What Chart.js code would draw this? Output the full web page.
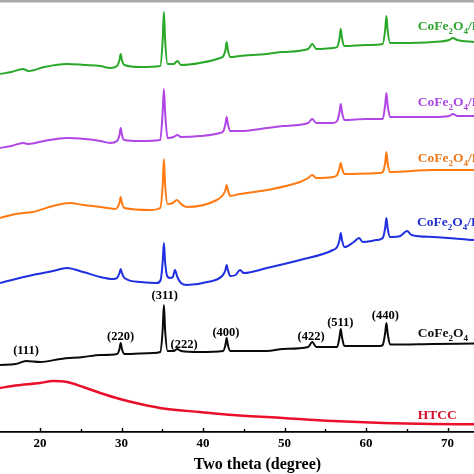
<!DOCTYPE html>
<html>
<head>
<meta charset="utf-8">
<script src="https://cdn.jsdelivr.net/npm/chart.js@4/dist/chart.umd.min.js"></script>
<style>
  html, body { margin: 0; padding: 0; background: #fff; }
  #wrap { width: 474px; height: 474px; position: relative; }
</style>
</head>
<body>
<div id="wrap"><canvas id="c"></canvas></div>
<script>
// ---- Data (two theta in degrees, intensity in arbitrary offset units) ----
const thetaGreen = [15.1,16.5,17.9,18.6,20.5,23.3,25.5,27.4,28.6,29.45,29.75,29.9,30.05,30.35,32.3,34.75,35.05,35.2,35.35,35.65,36.4,36.85,37.3,39.6,42.08,42.5,42.75,42.9,43.05,43.35,44.5,47.85,49.8,52.9,53.4,53.9,55.95,56.45,56.75,56.9,57.05,57.35,60,62.05,62.35,62.5,62.65,62.95,64.2,68.2,70.2,70.67,71.2,73.25];
const intGreen = [358,360,363,361,365,368,367,366,364,366,372,378,372,367,365,366,392,420,392,368,368,371,367,369,374,376,382,390,382,375,376,378,380,383,388,383,384,385,394,403,394,386,387,388,402,416,402,389,389,390,392,394,392,390];

const thetaPurple = [15.1,16.5,17.9,18.6,20.5,23.3,25.5,27.4,28.6,29.45,29.75,29.9,30.05,30.35,32.3,34.75,35.05,35.2,35.35,35.65,36.4,36.85,37.3,39.6,42.08,42.5,42.75,42.9,43.05,43.35,44.5,47.85,49.8,52.9,53.4,53.9,55.95,56.45,56.75,56.9,57.05,57.35,60,62.05,62.35,62.5,62.65,62.95,64.2,68.2,70.2,70.67,71.2,73.25];
const intPurple = [284,286,289,288,291,294,293,291,289,291,297,304,297,292,291,292,320,343,320,294,295,297,295,296,299,301,308,315,308,301,301,304,306,309,313,309,309,311,320,328,320,312,313,313,327,339,327,315,315,315,316,318,316,316];

const thetaOrange = [15.1,17.0,19.1,21.6,23.7,25.3,27.4,29.2,29.45,29.75,29.9,30.05,30.35,33.5,34.75,35.05,35.2,35.35,35.65,36.3,36.8,37.3,38.0,41.7,42.45,42.75,42.9,43.05,43.35,44.5,47.85,51.9,52.9,53.4,53.9,55.95,56.45,56.75,56.9,57.05,57.35,61.7,62.05,62.35,62.5,62.65,62.95,68.2,73.25];
const intOrange = [214,218,220,226,229,227,225,223,224,229,235,229,224,222,224,247,273,247,228,229,232,228,225,232,237,242,247,242,236,238,242,250,254,257,254,255,257,264,269,264,258,259,260,269,280,269,260,262,262];

const thetaBlue = [15.1,19.1,21.6,23.3,25.3,27.4,29.0,29.45,29.75,29.9,30.05,30.35,32.3,34.35,34.8,35.05,35.2,35.35,35.6,35.95,36.3,36.56,36.85,37.3,38.0,40.5,42.45,42.75,42.9,43.05,43.35,44.0,44.54,45.0,47.85,51.9,55.95,56.45,56.75,56.9,57.05,57.35,58.5,59.14,59.6,61.35,62.05,62.35,62.5,62.65,62.95,64.2,65.03,65.6,68.2,73.25];
const intBlue = [149,157,161,164,160,155,153,154,159,163,159,154,150,149,152,170,189,170,156,154,155,162,155,149,147,150,157,162,167,162,156,157,162,159,164,172,182,185,192,199,192,185,190,194,190,192,194,204,214,204,195,196,201,197,195,192];

const thetaBlack = [15.1,17.0,18.3,20.0,22.5,25.3,27.4,29.45,29.75,29.9,30.05,30.35,33.9,34.75,35.05,35.2,35.35,35.65,36.4,36.85,37.3,39.6,42.45,42.75,42.9,43.05,43.35,47.85,49.8,52.9,53.4,53.9,56.45,56.75,56.9,57.05,57.35,61.7,62.05,62.35,62.5,62.65,62.95,68.2,73.25];
const intBlack = [67,68,71,70,73,75,77,78,83,89,83,78,79,80,102,127,102,81,81,83,81,80,81,87,94,87,81,81,83,85,90,85,85,95,103,95,86,86,87,99,109,99,87.5,88,88.5];

const thetaRed = [15.1,17.0,20.0,21.6,23.3,25.3,27.4,29.8,32.3,35.6,39.6,43.7,49.8,55.95,62.1,68.2,73.25];
const intRed = [44,46.5,49,51,50,45,39,33,28,23,20,17,14,11,9,8,7.7];

const seriesNames = ['CoFe_2O_4/HTCC', 'CoFe_2O_4/HTCC', 'CoFe_2O_4/HTCC', 'CoFe_2O_4/HTCC', 'CoFe_2O_4', 'HTCC'];
const peakLabels = ['(111)', '(220)', '(311)', '(222)', '(400)', '(422)', '(511)', '(440)'];
const xTickValues = [20, 25, 30, 35, 40, 45, 50, 55, 60, 65, 70];
const xAxisTitle = 'Two theta (degree)';

// ---- Styling / placement (not data) ----
const lineColors = ['#2aa82a', '#b046e6', '#ff7a12', '#2030e0', '#0a0a0a', '#e8102a'];
const labelColors = ['#30a530', '#a848e0', '#f07818', '#2232d0', '#111111', '#d4102a'];
const seriesLabelPos = [[66.35, 402], [66.35, 326], [66.35, 270], [66.25, 206], [66.35, 95], [66.35, 13]];
const peakLabelPos = [[18.28, 81], [29.88, 95], [35.3, 136], [37.67, 87], [42.82, 99], [53.25, 95], [56.85, 109], [62.37, 116]];

const FONT = '"Liberation Serif", "Times New Roman", serif';

function toXY(xs, ys) { return xs.map((x, i) => ({ x: x, y: ys[i] })); }

const seriesData = [
  toXY(thetaGreen, intGreen),
  toXY(thetaPurple, intPurple),
  toXY(thetaOrange, intOrange),
  toXY(thetaBlue, intBlue),
  toXY(thetaBlack, intBlack),
  toXY(thetaRed, intRed)
];

function drawRich(ctx, text, x, y, size, color) {
  const parts = [];
  for (let i = 0; i < text.length; i++) {
    if (text[i] === '_') { parts.push({ t: text[i + 1], sub: true }); i++; }
    else if (parts.length && !parts[parts.length - 1].sub) parts[parts.length - 1].t += text[i];
    else parts.push({ t: text[i], sub: false });
  }
  let cx = x;
  ctx.fillStyle = color;
  ctx.textAlign = 'left';
  ctx.textBaseline = 'alphabetic';
  for (const p of parts) {
    const s = p.sub ? Math.round(size * 0.7) : size;
    ctx.font = 'bold ' + s + 'px ' + FONT;
    ctx.fillText(p.t, cx, p.sub ? y + size * 0.28 : y);
    cx += ctx.measureText(p.t).width;
  }
}

const annotatePlugin = {
  id: 'annotate',
  afterDraw(chart) {
    const ctx = chart.ctx;
    const xs = chart.scales.x, ys = chart.scales.y;
    const area = chart.chartArea;
    ctx.save();
    // top frame line
    ctx.fillStyle = '#a8a8a8';
    ctx.fillRect(0, 0, chart.width, 2.5);
    // inward ticks
    ctx.strokeStyle = '#000';
    ctx.lineWidth = 1.4;
    xTickValues.forEach(v => {
      const px = Math.round(xs.getPixelForValue(v)) + 0.5;
      const len = (v % 10 === 0) ? 4 : 3;
      ctx.beginPath();
      ctx.moveTo(px, area.bottom);
      ctx.lineTo(px, area.bottom - len);
      ctx.stroke();
    });
    // axis title
    ctx.fillStyle = '#000';
    ctx.font = 'bold 16px ' + FONT;
    ctx.textAlign = 'center';
    ctx.textBaseline = 'middle';
    ctx.fillText(xAxisTitle, xs.getPixelForValue(46.68), 465);
    // peak labels
    ctx.font = 'bold 12.5px ' + FONT;
    peakLabels.forEach((t, i) => {
      const p = peakLabelPos[i];
      ctx.fillText(t, xs.getPixelForValue(p[0]), ys.getPixelForValue(p[1]));
    });
    // series labels
    seriesNames.forEach((t, i) => {
      const p = seriesLabelPos[i];
      drawRich(ctx, t, xs.getPixelForValue(p[0]), ys.getPixelForValue(p[1]), 13.5, labelColors[i]);
    });
    ctx.restore();
  }
};

new Chart(document.getElementById('c'), {
  type: 'line',
  data: {
    datasets: seriesData.map((d, i) => ({
      data: d,
      borderColor: lineColors[i],
      borderWidth: i === 5 ? 2.4 : 2,
      pointRadius: 0,
      cubicInterpolationMode: 'monotone',
      fill: false
    }))
  },
  options: {
    responsive: true,
    maintainAspectRatio: false,
    animation: false,
    devicePixelRatio: 1,
    layout: { padding: 0 },
    plugins: { legend: { display: false }, tooltip: { enabled: false }, title: { display: false } },
    scales: {
      x: {
        type: 'linear',
        min: 15.09,
        max: 73.25,
        afterBuildTicks: (scale) => { scale.ticks = xTickValues.map(v => ({ value: v })); },
        afterFit: (scale) => { scale.height = 42; },
        grid: { display: false, drawTicks: false },
        border: { display: true, color: '#000', width: 1.8 },
        ticks: {
          autoSkip: false,
          maxRotation: 0,
          padding: 4,
          color: '#000',
          font: { family: FONT, size: 13, weight: 'bold' },
          callback: (v) => (v % 10 === 0 ? String(v) : '')
        }
      },
      y: {
        display: false,
        min: 0,
        max: 432
      }
    }
  },
  plugins: [annotatePlugin]
});
</script>
</body>
</html>
